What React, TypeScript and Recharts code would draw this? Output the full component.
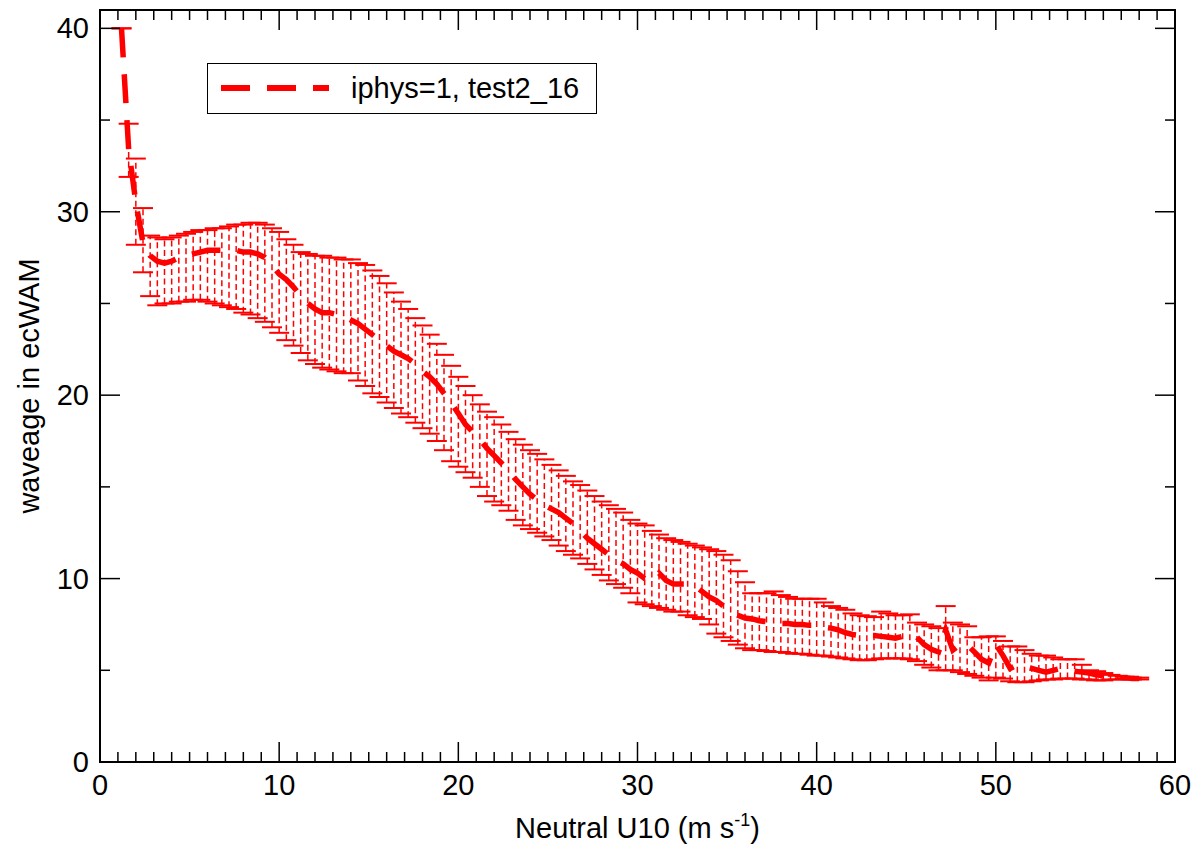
import React from 'react';
import { ComposedChart, Line, Scatter, XAxis, YAxis, ErrorBar, Legend, Label } from 'recharts';

// wind speed bins (Neutral U10, m/s)
const windSpeed = [
  1.2, 1.6, 2.0, 2.4, 2.8, 3.2, 3.6, 4.0, 4.4, 4.8,
  5.2, 5.6, 6.0, 6.4, 6.8, 7.2, 7.6, 8.0, 8.4, 8.8,
  9.2, 9.6, 10.0, 10.4, 10.8, 11.2, 11.6, 12.0, 12.4, 12.8,
  13.2, 13.6, 14.0, 14.4, 14.8, 15.2, 15.6, 16.0, 16.4, 16.8,
  17.2, 17.6, 18.0, 18.4, 18.8, 19.2, 19.6, 20.0, 20.4, 20.8,
  21.2, 21.6, 22.0, 22.4, 22.8, 23.2, 23.6, 24.0, 24.4, 24.8,
  25.2, 25.6, 26.0, 26.4, 26.8, 27.2, 27.6, 28.0, 28.4, 28.8,
  29.2, 29.6, 30.0, 30.4, 30.8, 31.2, 31.6, 32.0, 32.4, 32.8,
  33.2, 33.6, 34.0, 34.4, 34.8, 35.2, 35.6, 36.0, 36.4, 36.8,
  37.2, 37.6, 38.0, 38.4, 38.8, 39.2, 39.6, 40.0, 40.4, 40.8,
  41.2, 41.6, 42.0, 42.4, 42.8, 43.2, 43.6, 44.0, 44.4, 44.8,
  45.2, 45.6, 46.0, 46.4, 46.8, 47.2, 47.6, 48.0, 48.4, 48.8,
  49.2, 49.6, 50.0, 50.4, 50.8, 51.2, 51.6, 52.0, 52.4, 52.8,
  53.2, 53.6, 54.0, 54.4, 54.8, 55.2, 55.6, 56.0, 56.4, 56.8,
  57.2, 57.6, 58.0,
];

// mean wave age
const meanWaveAge = [
  40.0, 33.4, 30.5, 28.3, 27.6, 27.3, 27.2, 27.3, 27.5, 27.6,
  27.7, 27.8, 27.9, 27.9, 27.9, 27.9, 27.9, 27.8, 27.8, 27.7,
  27.5, 27.1, 26.6, 26.3, 25.9, 25.4, 25.0, 24.7, 24.5, 24.5,
  24.4, 24.3, 24.1, 23.9, 23.6, 23.3, 23.0, 22.7, 22.4, 22.2,
  22.0, 21.7, 21.3, 21.0, 20.6, 20.1, 19.6, 19.0, 18.4, 18.0,
  17.6, 17.1, 16.7, 16.3, 15.9, 15.4, 15.0, 14.6, 14.3, 14.0,
  13.8, 13.6, 13.3, 13.0, 12.6, 12.2, 11.9, 11.6, 11.3, 11.0,
  10.8, 10.5, 10.3, 10.0, 9.9, 10.3, 9.9, 9.7, 9.7, 9.7,
  9.6, 9.3, 9.0, 8.8, 8.5, 8.2, 8.0, 7.85, 7.8, 7.7,
  7.65, 7.6, 7.55, 7.55, 7.5, 7.5, 7.45, 7.45, 7.35, 7.3,
  7.2, 7.05, 6.95, 6.9, 6.9, 6.9, 6.85, 6.8, 6.75, 6.85,
  7.0, 6.8, 6.4, 6.15, 6.0, 7.2, 6.1, 6.4, 6.4, 6.0,
  5.6, 5.4, 6.4, 5.8, 5.1, 5.3, 5.2, 5.1, 5.0, 4.9,
  5.0, 5.1, 5.0, 4.95, 4.9, 4.85, 4.75, 4.7, 4.65, 4.6,
  4.6, 4.55, 4.55,
];

// upper end of the error bar
const upperWaveAge = [
  40.0, 34.8, 32.9, 30.2, 28.7, 28.6, 28.5, 28.6, 28.7, 28.8,
  28.9, 29.0, 29.0, 29.1, 29.1, 29.2, 29.3, 29.3, 29.4, 29.4,
  29.3, 29.1, 28.9, 28.5, 28.2, 27.8, 27.7, 27.6, 27.6, 27.5,
  27.5, 27.4, 27.4, 27.2, 27.1, 26.8, 26.5, 26.1, 25.6, 25.1,
  24.7, 24.2, 23.8, 23.3, 22.8, 22.2, 21.6, 21.0, 20.5, 20.0,
  19.5, 19.1, 18.8, 18.4, 18.0, 17.6, 17.3, 17.0, 16.8, 16.5,
  16.2, 15.9, 15.6, 15.3, 15.1, 14.8, 14.5, 14.2, 14.0, 13.8,
  13.6, 13.2, 13.0, 12.9, 12.6, 12.4, 12.2, 12.1, 12.0, 11.9,
  11.8, 11.7, 11.6, 11.5, 11.3, 11.0, 10.4, 9.8, 9.2, 9.2,
  9.2, 9.3, 9.1, 9.0, 8.9, 8.9, 8.9, 8.9, 8.7, 8.5,
  8.4, 8.3, 8.1, 8.0, 7.95, 7.9, 8.2, 8.1, 8.0, 8.0,
  8.05, 7.6, 7.5, 7.4, 7.3, 8.5, 7.6, 7.5, 7.4, 6.8,
  6.8, 6.85, 6.85, 6.6, 6.3, 6.3, 6.1, 5.9, 5.8, 5.8,
  5.7, 5.6, 5.6, 5.6, 5.3, 5.0, 4.95, 4.85, 4.75, 4.7,
  4.65, 4.6, 4.6,
];

// lower end of the error bar
const lowerWaveAge = [
  40.0, 31.9, 28.2, 26.7, 25.4, 24.9, 25.0, 25.0, 25.1, 25.1,
  25.2, 25.2, 25.1, 25.0, 24.9, 24.8, 24.7, 24.5, 24.4, 24.2,
  24.0, 23.7, 23.4, 23.0, 22.7, 22.3, 21.9, 21.7, 21.5, 21.4,
  21.3, 21.2, 21.2, 20.8, 20.5, 20.1, 19.9, 19.6, 19.3, 19.0,
  18.8, 18.5, 18.2, 17.9, 17.5, 17.0, 16.4, 16.1, 15.8, 15.5,
  15.0, 14.5, 14.2, 14.0, 13.7, 13.2, 12.9, 12.7, 12.5, 12.3,
  12.1, 11.8, 11.5, 11.3, 11.1, 10.8, 10.5, 10.2, 9.9, 9.7,
  9.5, 9.2, 8.7, 8.6, 8.5, 8.4, 8.3, 8.2, 8.2, 8.0,
  7.9, 7.8, 7.5, 7.0, 6.8, 6.6, 6.4, 6.2, 6.1, 6.1,
  6.05, 6.0, 6.0, 5.95, 5.9, 5.9, 5.85, 5.8, 5.8, 5.75,
  5.7, 5.65, 5.6, 5.55, 5.55, 5.6, 5.65, 5.65, 5.65, 5.65,
  5.6, 5.5, 5.3, 5.15, 5.0, 5.0, 5.0, 4.9, 4.8, 4.7,
  4.6, 4.45, 4.6, 4.55, 4.4, 4.35, 4.35, 4.4, 4.45, 4.5,
  4.5, 4.55, 4.55, 4.55, 4.5, 4.5, 4.45, 4.45, 4.5, 4.5,
  4.55, 4.5, 4.5,
];

const xTicks = [
  0, 1, 2, 3, 4, 5, 6, 7, 8, 9, 10, 11, 12, 13, 14, 15, 16, 17, 18, 19, 20,
  21, 22, 23, 24, 25, 26, 27, 28, 29, 30, 31, 32, 33, 34, 35, 36, 37, 38, 39, 40,
  41, 42, 43, 44, 45, 46, 47, 48, 49, 50, 51, 52, 53, 54, 55, 56, 57, 58, 59, 60,
];
const yTicks = [0, 5, 10, 15, 20, 25, 30, 35, 40];
const seriesName = 'iphys=1, test2_16';
const xTitle = 'Neutral U10 (m s';
const xTitleSup = '-1';
const yTitle = 'waveage in ecWAM';

const RED = '#ff0000';
const FONT = '"Liberation Sans", Arial, Helvetica, sans-serif';
const FS = 29;

const data = windSpeed.map((x, i) => ({
  x,
  m: meanWaveAge[i],
  h: upperWaveAge[i],
  l: lowerWaveAge[i],
  err: [meanWaveAge[i] - lowerWaveAge[i], upperWaveAge[i] - meanWaveAge[i]],
}));

const BottomTick = (p: any) => {
  const v = p.payload.value;
  const major = v % 10 === 0;
  return (
    <g>
      <line x1={p.x} x2={p.x} y1={p.y} y2={p.y - (major ? 20 : 10)} stroke="#000" strokeWidth={1.5} />
      {major && (
        <text x={p.x} y={p.y + 33} textAnchor="middle" fontSize={FS} fontFamily={FONT} fill="#000">
          {v}
        </text>
      )}
    </g>
  );
};

const TopTick = (p: any) => {
  const v = p.payload.value;
  const major = v % 10 === 0;
  return <line x1={p.x} x2={p.x} y1={p.y} y2={p.y + (major ? 20 : 10)} stroke="#000" strokeWidth={1.5} />;
};

const LeftTick = (p: any) => {
  const v = p.payload.value;
  const major = v % 10 === 0;
  return (
    <g>
      <line x1={p.x} x2={p.x + (major ? 20 : 10)} y1={p.y} y2={p.y} stroke="#000" strokeWidth={1.5} />
      {major && (
        <text x={p.x - 11} y={p.y + 10} textAnchor="end" fontSize={FS} fontFamily={FONT} fill="#000">
          {v}
        </text>
      )}
    </g>
  );
};

const RightTick = (p: any) => {
  const v = p.payload.value;
  const major = v % 10 === 0;
  return <line x1={p.x} x2={p.x - (major ? 20 : 10)} y1={p.y} y2={p.y} stroke="#000" strokeWidth={1.5} />;
};

const Cap = (p: any) => {
  if (p.cx == null || p.cy == null) return <g />;
  return <line x1={p.cx - 10} x2={p.cx + 10} y1={p.cy} y2={p.cy} stroke={RED} strokeWidth={2} />;
};

const XTitle = (p: any) => {
  const vb = p.viewBox || { x: 100, y: 762, width: 1075 };
  return (
    <text x={vb.x + vb.width / 2} y={vb.y + 76} textAnchor="middle" fontSize={FS} fontFamily={FONT} fill="#000">
      {xTitle}
      <tspan dy={-12} fontSize={18}>{xTitleSup}</tspan>
      <tspan dy={12}>)</tspan>
    </text>
  );
};

const YTitle = (p: any) => {
  const vb = p.viewBox || { x: 0, y: 10, height: 752 };
  const cx = 39;
  const cy = vb.y + vb.height / 2;
  return (
    <text x={cx} y={cy} transform={`rotate(-90, ${cx}, ${cy})`} textAnchor="middle" fontSize={FS} fontFamily={FONT} fill="#000">
      {yTitle}
    </text>
  );
};

const LegendBox = (props: any) => {
  const entry = (props.payload || []).find((e: any) => e.value === seriesName) || { value: seriesName, color: RED };
  return (
    <div
      style={{
        width: 390,
        height: 51,
        boxSizing: 'border-box',
        border: '1.5px solid #000',
        background: '#fff',
        position: 'relative',
      }}
    >
      <svg width={140} height={48} style={{ position: 'absolute', left: 0, top: 0 }}>
        <line x1={13} x2={121} y1={24} y2={24} stroke={entry.color || RED} strokeWidth={6} strokeDasharray="29 17" />
      </svg>
      <span
        style={{
          position: 'absolute',
          left: 143,
          top: 6,
          fontFamily: FONT,
          fontSize: FS,
          lineHeight: '36px',
          color: '#000',
          whiteSpace: 'nowrap',
        }}
      >
        {entry.value}
      </span>
    </div>
  );
};

const frameLine = { stroke: '#000', strokeWidth: 2, strokeLinecap: 'square' as const };

export default function App() {
  return (
    <div style={{ position: 'absolute', left: 0, top: 0, width: 1196, height: 847, background: '#fff' }}>
      <ComposedChart width={1196} height={847} data={data} margin={{ top: 9, right: 20, bottom: 0, left: 0 }}>
        <XAxis
          dataKey="x"
          type="number"
          domain={[0, 60]}
          ticks={xTicks}
          interval={0}
          height={85}
          tickSize={0}
          tickMargin={0}
          tickLine={false}
          tick={<BottomTick />}
          axisLine={frameLine}
          allowDataOverflow
        >
          <Label content={<XTitle />} />
        </XAxis>
        <XAxis
          xAxisId="top"
          orientation="top"
          dataKey="x"
          type="number"
          domain={[0, 60]}
          ticks={xTicks}
          interval={0}
          height={1}
          tickSize={0}
          tickMargin={0}
          tickLine={false}
          tick={<TopTick />}
          axisLine={frameLine}
          allowDataOverflow
        />
        <YAxis
          type="number"
          domain={[0, 41]}
          ticks={yTicks}
          interval={0}
          width={100}
          tickSize={0}
          tickMargin={0}
          tickLine={false}
          tick={<LeftTick />}
          axisLine={frameLine}
          allowDataOverflow
        >
          <Label content={<YTitle />} />
        </YAxis>
        <YAxis
          yAxisId="right"
          orientation="right"
          type="number"
          domain={[0, 41]}
          ticks={yTicks}
          interval={0}
          width={1}
          tickSize={0}
          tickMargin={0}
          tickLine={false}
          tick={<RightTick />}
          axisLine={frameLine}
          allowDataOverflow
        />
        <Legend
          layout="vertical"
          align="center"
          verticalAlign="middle"
          wrapperStyle={{ left: 207, top: 63, width: 390, height: 51 }}
          content={<LegendBox />}
        />
        <Scatter dataKey="h" shape={<Cap />} legendType="none" isAnimationActive={false} />
        <Scatter dataKey="l" shape={<Cap />} legendType="none" isAnimationActive={false} />
        <Line
          name={seriesName}
          dataKey="m"
          type="linear"
          stroke={RED}
          strokeWidth={5.5}
          strokeDasharray="29 17"
          dot={false}
          activeDot={false}
          isAnimationActive={false}
        >
          <ErrorBar
            dataKey="err"
            direction="y"
            width={0}
            stroke={RED}
            strokeWidth={1.5}
            strokeDasharray="6 3.5"
          />
        </Line>
      </ComposedChart>
    </div>
  );
}
